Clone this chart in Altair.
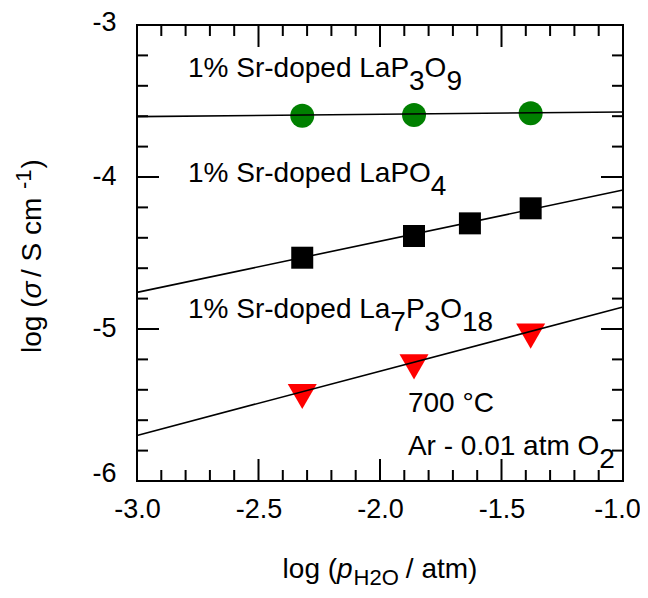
import altair as alt
import pandas as pd

# ---------------- data ----------------
# 1% Sr-doped LaP3O9 (green circles)
x_lap3o9 = [-2.32, -1.86, -1.38]
y_lap3o9 = [-3.597, -3.592, -3.581]
# 1% Sr-doped LaPO4 (black squares)
x_lapo4 = [-2.32, -1.86, -1.63, -1.38]
y_lapo4 = [-4.531, -4.388, -4.305, -4.206]
# 1% Sr-doped La7P3O18 (red down-triangles)
x_la7 = [-2.32, -1.86, -1.38]
y_la7 = [-5.444, -5.249, -5.047]

# linear fits (end points at the axis limits)
fit_x = [-3.0, -1.0]
fit_lap3o9 = [-3.603, -3.572]
fit_lapo4 = [-4.759, -4.086]
fit_la7 = [-5.700, -4.855]

# axis ticks
x_ticks_major = [-3.0, -2.5, -2.0, -1.5, -1.0]
x_ticks_minor = [-2.9, -2.8, -2.7, -2.6, -2.4, -2.3, -2.2, -2.1,
                 -1.9, -1.8, -1.7, -1.6, -1.4, -1.3, -1.2, -1.1]
y_ticks_major = [-6, -5, -4, -3]
y_ticks_minor = [-5.8, -5.6, -5.4, -5.2, -4.8, -4.6, -4.4, -4.2,
                 -3.8, -3.6, -3.4, -3.2]

# annotation anchors (data coordinates, left/baseline)
label_x = [-2.790, -2.790, -2.790, -1.885, -1.885]
label_y = [-3.342, -4.031, -4.930, -5.546, -5.829]
# pieces: (text, is_subscript)
label_pieces = [
    [("1% Sr-doped LaP", 0), ("3", 1), ("O", 0), ("9", 1)],
    [("1% Sr-doped LaPO", 0), ("4", 1)],
    [("1% Sr-doped La", 0), ("7", 1), ("P", 0), ("3", 1), ("O", 0), ("18", 1)],
    [("700 \u00b0C", 0)],
    [("Ar - 0.01 atm O", 0), ("2", 1)],
]

# ---------------- styling ----------------
FONT = "Liberation Sans"
FS = 28        # annotation font size
TICK_FS = 27
TITLE_FS = 28
SCRIPT_FS = 22
W, H = 486, 456

# Arial / Liberation Sans advance widths (em)
CW = {' ': .278, '%': .889, '(': .333, ')': .333, '-': .333, '.': .278, '/': .278,
      'A': .667, 'C': .722, 'H': .722, 'L': .556, 'O': .778, 'P': .667, 'S': .667,
      'a': .556, 'c': .5, 'd': .556, 'e': .556, 'g': .556, 'l': .222, 'm': .833,
      'o': .556, 'p': .556, 'r': .333, 't': .278, '\u00b0': .4, '\u03c3': .62}
for d in "0123456789":
    CW[d] = .556


def tw(s, fs):
    return sum(CW.get(c, .556) for c in s) * fs


xscale = alt.Scale(domain=[-3.0, -1.0], nice=False, zero=False)
yscale = alt.Scale(domain=[-6, -3], nice=False, zero=False)

xaxis = alt.Axis(values=x_ticks_major,
                 labelExpr="'-' + format(abs(datum.value), '.1f')",
                 ticks=False, tickSize=0, domain=False, grid=False,
                 labelFont=FONT, labelFontSize=TICK_FS, labelColor="black",
                 labelPadding=15, labelFlush=False, labelOverlap=False, title=None,
                 labelOffset={"condition": [{"test": "datum.value == -1", "value": -6}],
                              "value": 0})
yaxis = alt.Axis(values=y_ticks_major,
                 labelExpr="'-' + format(abs(datum.value), 'd')",
                 ticks=False, tickSize=0, domain=False, grid=False,
                 labelFont=FONT, labelFontSize=TICK_FS, labelColor="black",
                 labelPadding=21, labelFlush=False, labelOverlap=False, title=None,
                 labelOffset={"condition": [{"test": "datum.value == -6", "value": -8},
                                            {"test": "datum.value == -3", "value": -3}],
                              "value": -1})


def X():
    return alt.X("x:Q", scale=xscale, axis=xaxis)


def Y():
    return alt.Y("y:Q", scale=yscale, axis=yaxis)


layers = []

# ----- tick marks (inside, on all four sides) -----
def xtick_layer(vals, length, top):
    df = pd.DataFrame({"x": vals})
    if top:
        yy, yy2 = alt.value(0), alt.value(length)
    else:
        yy, yy2 = alt.value(H), alt.value(H - length)
    return alt.Chart(df).mark_rule(color="black", strokeWidth=2).encode(x=X(), y=yy, y2=yy2)


def ytick_layer(vals, length, right):
    df = pd.DataFrame({"y": vals})
    if right:
        xx, xx2 = alt.value(W), alt.value(W - length)
    else:
        xx, xx2 = alt.value(0), alt.value(length)
    return alt.Chart(df).mark_rule(color="black", strokeWidth=2).encode(y=Y(), x=xx, x2=xx2)


for top in (False, True):
    layers.append(xtick_layer(x_ticks_major, 22, top))
    layers.append(xtick_layer(x_ticks_minor, 11, top))
for right in (False, True):
    layers.append(ytick_layer(y_ticks_major, 22, right))
    layers.append(ytick_layer(y_ticks_minor, 11, right))

# ----- data points -----
layers.append(alt.Chart(pd.DataFrame({"x": x_lap3o9, "y": y_lap3o9}))
              .mark_point(shape="circle", filled=True, size=576, color="#008000", opacity=1)
              .encode(x=X(), y=Y()))
layers.append(alt.Chart(pd.DataFrame({"x": x_lapo4, "y": y_lapo4}))
              .mark_point(shape="square", filled=True, size=484, color="black", opacity=1)
              .encode(x=X(), y=Y()))
layers.append(alt.Chart(pd.DataFrame({"x": x_la7, "y": y_la7}))
              .mark_point(shape="triangle-down", filled=True, size=841, color="#ff0000", opacity=1)
              .encode(x=X(), y=Y()))

# ----- fit lines (drawn over the markers) -----
fit_df = pd.DataFrame({
    "x": fit_x * 3,
    "y": fit_lap3o9 + fit_lapo4 + fit_la7,
    "s": ["a", "a", "b", "b", "c", "c"],
})
layers.append(alt.Chart(fit_df).mark_line(color="black", strokeWidth=1.6)
              .encode(x=X(), y=Y(), detail="s:N"))

# ----- annotations -----
for lx, ly, pieces in zip(label_x, label_y, label_pieces):
    anchor = pd.DataFrame({"x": [lx], "y": [ly]})
    off = 0.0
    for txt, sub in pieces:
        layers.append(alt.Chart(anchor).mark_text(
            text=txt, dx=off, dy=13 if sub else 0, align="left", baseline="alphabetic",
            font=FONT, fontSize=FS, color="black").encode(x=X(), y=Y()))
        off += tw(txt, FS)

dummy = pd.DataFrame({"k": [0]})

# ----- x axis title: log (p_H2O / atm) -----
xt_pieces = [("log (", TITLE_FS, "normal", 0, 0), ("p", TITLE_FS, "italic", 0, 1),
             ("H2O", SCRIPT_FS, "normal", 7, 7), ("/ atm)", TITLE_FS, "normal", 0, 0)]
xt_total = sum(tw(t, f) + g for t, f, _, _, g in xt_pieces)
pos = W / 2 - xt_total / 2
for t, f, st, dy, g in xt_pieces:
    layers.append(alt.Chart(dummy).mark_text(
        text=t, align="left", baseline="alphabetic", dy=dy, font=FONT, fontSize=f,
        fontStyle=st, color="black").encode(x=alt.value(pos), y=alt.value(553)))
    pos += tw(t, f) + g

# ----- y axis title: log (sigma / S cm^-1) -----
yt_pieces = [("log (", TITLE_FS, "normal", 0, 0), ("\u03c3", TITLE_FS, "italic", 0, 4),
             (" / S cm", TITLE_FS, "normal", 0, 1), ("-1", SCRIPT_FS, "normal", -10, 1),
             (")", TITLE_FS, "normal", 0, 0)]
yt_total = sum(tw(t, f) + g for t, f, _, _, g in yt_pieces)
off = 0.0
for t, f, st, dy, g in yt_pieces:
    layers.append(alt.Chart(dummy).mark_text(
        text=t, align="left", baseline="alphabetic", angle=270, dx=off, dy=dy,
        font=FONT, fontSize=f, fontStyle=st, color="black")
        .encode(x=alt.value(-96), y=alt.value(231 + yt_total / 2)))
    off += tw(t, f) + g

chart = alt.layer(*layers).properties(
    width=W, height=H,
    autosize=alt.AutoSizeParams(type="none"),
    padding={"left": 129, "top": 17, "right": 17, "bottom": 109},
).configure_view(stroke="black", strokeWidth=2)

chart.save("out.html", embed_options={"renderer": "svg", "actions": False})
